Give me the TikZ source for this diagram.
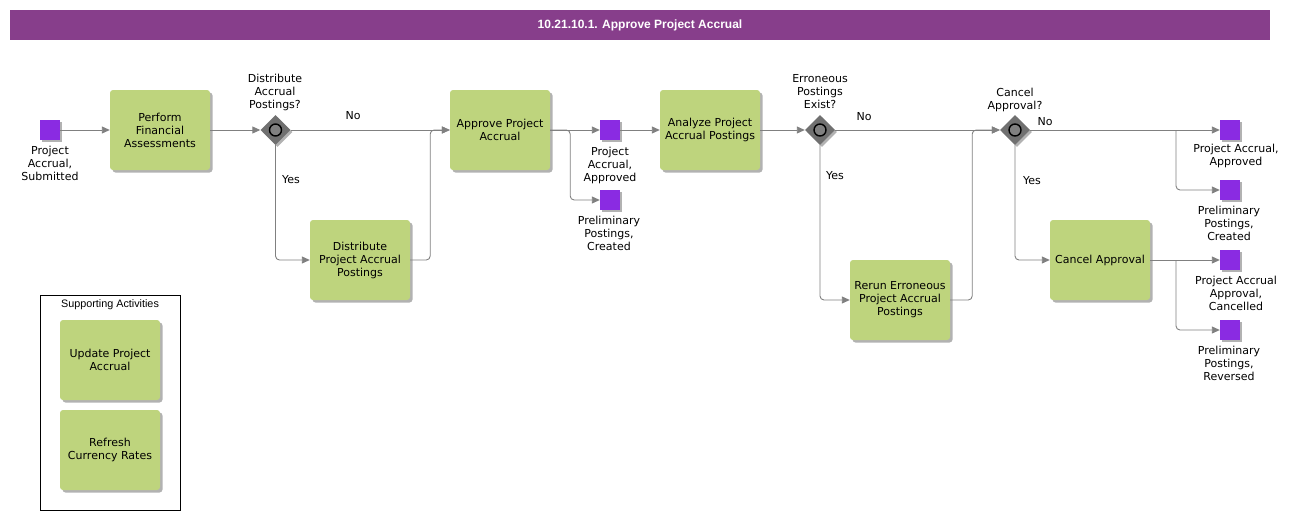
\documentclass[tikz,border=0pt]{standalone}
\usepackage{fontspec}
\setmainfont{DejaVu Sans}
\newfontfamily\arialfont{Liberation Sans}
\usetikzlibrary{shapes.geometric,arrows.meta,shadows,calc}
\definecolor{titlebar}{RGB}{135,62,139}
\definecolor{taskgreen}{RGB}{190,212,125}
\definecolor{evpurple}{RGB}{138,43,226}
\definecolor{gwgray}{RGB}{112,112,112}
\definecolor{linegray}{RGB}{128,128,128}
\tikzset{
  lbl/.style={font=\fontsize{11}{13}\selectfont, align=center, inner sep=0pt, text=black},
  taskbox/.style={draw=none, fill=taskgreen, rounded corners=3pt, minimum width=100pt, minimum height=80pt, inner sep=2pt, align=center, font=\fontsize{11}{13}\selectfont, drop shadow={shadow xshift=2.5pt, shadow yshift=-2.5pt, opacity=0.3, fill=black}},
  evbox/.style={draw=none, fill=evpurple, minimum size=20pt, inner sep=0pt, drop shadow={shadow xshift=2pt, shadow yshift=-2pt, opacity=0.3, fill=black}},
  gwbox/.style={diamond, draw=none, fill=gwgray, minimum size=30pt, inner sep=0pt, drop shadow={shadow xshift=2pt, shadow yshift=-2pt, opacity=0.3, fill=black},
    path picture={\draw[line width=1.4pt, fill=linegray] (path picture bounding box.center) circle (6pt);}},
  flow/.style={draw=linegray, line width=0.9pt, rounded corners=4pt, -{Triangle[length=8pt,width=7pt]}},
}
\begin{document}
\begin{tikzpicture}[x=1pt,y=-1pt]
\useasboundingbox (0,0) rectangle (1300,520);
% title
\node[fill=titlebar, minimum width=1260pt, minimum height=30pt, inner sep=0pt, text=white, font=\arialfont\bfseries\fontsize{12}{14}\selectfont] (title) at (640,25) {10.21.10.1. Approve Project Accrual};

% events
\node[evbox] (e1) at (50,130) {};
\node[lbl] (e1l) at (50,163) {Project\\Accrual,\\Submitted};
\node[evbox] (e2) at (610,130) {};
\node[lbl] (e2l) at (610,165) {Project\\Accrual,\\Approved};
\node[evbox] (e3) at (610,200) {};
\node[lbl] (e3l) at (609,233) {Preliminary\\Postings,\\Created};
\node[evbox] (e4) at (1230,130) {};
\node[lbl] (e4l) at (1236,156) {Project Accrual,\\Approved};
\node[evbox] (e5) at (1230,190) {};
\node[lbl] (e5l) at (1229,223) {Preliminary\\Postings,\\Created};
\node[evbox] (e6) at (1230,260) {};
\node[lbl] (e6l) at (1236,293) {Project Accrual\\Approval,\\Cancelled};
\node[evbox] (e7) at (1230,330) {};
\node[lbl] (e7l) at (1229,363) {Preliminary\\Postings,\\Reversed};

% tasks
\node[taskbox] (t1) at (160,130) {Perform\\Financial\\Assessments};
\node[taskbox] (t2) at (360,260) {Distribute\\Project Accrual\\Postings};
\node[taskbox] (t3) at (500,130) {Approve Project\\Accrual};
\node[taskbox] (t4) at (710,130) {Analyze Project\\Accrual Postings};
\node[taskbox] (t5) at (900,300) {Rerun Erroneous\\Project Accrual\\Postings};
\node[taskbox] (t6) at (1100,260) {Cancel Approval};

% gateways
\node[gwbox] (g1) at (275.5,130) {};
\node[lbl] (g1l) at (275,92) {Distribute\\Accrual\\Postings?};
\node[gwbox] (g2) at (820,130) {};
\node[lbl] (g2l) at (820,92) {Erroneous\\Postings\\Exist?};
\node[gwbox] (g3) at (1015,130) {};
\node[lbl] (g3l) at (1015,99.5) {Cancel\\Approval?};

% branch coordinates
\coordinate (b3) at (1176,130);
\coordinate (b4) at (1176,260);

% flows
\draw[flow] (e1) -- (t1);
\draw[flow] (t1) -- (g1);
\draw[flow] (g1.east) -- (t3.west);
\node[lbl] (no1) at (353,116) {No};
\draw[flow] (g1.south) |- (t2.west);
\node[lbl] (yes1) at (291,180) {Yes};
\draw[flow] (t2.east) -- ++(20,0) |- (t3.west);
\draw[flow] (t3.east) -- (e2.west);
\draw[flow] (t3.east) -- ++(20,0) |- (e3.west);
\draw[flow] (e2.east) -- (t4.west);
\draw[flow] (t4.east) -- (g2.west);
\draw[flow] (g2.east) -- (g3.west);
\node[lbl] (no2) at (864,117) {No};
\draw[flow] (g2.south) |- (t5.west);
\node[lbl] (yes2) at (835,176) {Yes};
\draw[flow] (t5.east) -- ++(22,0) |- (g3.west);
\draw[flow] (g3.east) -- (e4.west);
\draw[flow] (b3) |- (e5.west);
\node[lbl] (no3) at (1045,122) {No};
\draw[flow] (g3.south) |- (t6.west);
\node[lbl] (yes3) at (1032,181) {Yes};
\draw[flow] (t6.east) -- (e6.west);
\draw[flow] (b4) |- (e7.west);

% supporting activities
\node[draw=black, line width=0.8pt, minimum width=140pt, minimum height=215pt, inner sep=0pt] (sup) at (110,402.5) {};
\node[font=\arialfont\fontsize{10.8}{13}\selectfont, inner sep=0pt] (supl) at (110,305) {Supporting Activities};
\node[taskbox] (s1) at (110,360) {Update Project\\Accrual};
\node[taskbox] (s2) at (110,450) {Refresh\\Currency Rates};
\end{tikzpicture}
\end{document}
